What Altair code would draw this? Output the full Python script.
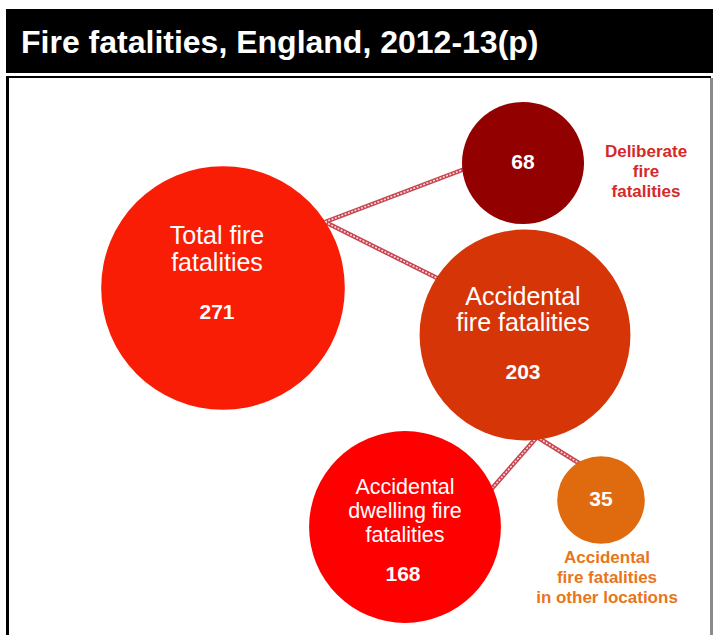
import altair as alt
import pandas as pd
import numpy as np

W, H = 713, 635

# ---------------- data ----------------
title_text = "Fire fatalities, England, 2012-13(p)"
categories = [
    "Total fire fatalities",
    "Deliberate fire fatalities",
    "Accidental fire fatalities",
    "Accidental dwelling fire fatalities",
    "Accidental fire fatalities in other locations",
]
values = [271, 68, 203, 168, 35]
parents = [None, 0, 0, 2, 2]
inner_labels = ["Total fire\nfatalities", "", "Accidental\nfire fatalities",
                "Accidental\ndwelling fire\nfatalities", ""]
outer_labels = ["", "Deliberate\nfire\nfatalities", "", "",
                "Accidental\nfire fatalities\nin other locations"]
colors = ["#f91d06", "#930000", "#d63508", "#ff0000", "#e06a0e"]
outer_label_colors = ["#d42a2a", "#e8751c"]

# ---------------- layout (pixel space of the picture) ----------------
node_x = [223, 523, 525, 405, 601]
node_y = [288, 163, 335, 527, 500]
inner_label_x = [217, 0, 523, 405, 0]
inner_label_y = [236, 0, 297, 488, 0]      # first line of each label
inner_label_size = [25, 0, 25, 21.5, 0]
inner_line_height = [27, 0, 26, 24, 0]
value_x = [217, 523, 523, 403, 601]
value_y = [313, 163, 373, 575, 500]
outer_label_x = [0, 646, 0, 0, 607]
outer_label_y = [0, 152, 0, 0, 558]         # first line of each label
# junction point on the parent circle and end point on each child
junction = {0: (325, 222), 2: (537, 437)}
child_end = {1: (470, 167), 2: (445, 282), 3: (488, 493), 4: (590, 470)}

R_PER_SQRT = 7.4  # radius in px per sqrt(value)
# Vega symbol size = (diameter)^2
size_max = (2 * R_PER_SQRT) ** 2 * max(values)

nodes = pd.DataFrame({
    "name": categories, "value": values,
    "x": node_x, "y": node_y,
    "vx": value_x, "vy": value_y,
    "vlabel": [str(v) for v in values],
})

xs = alt.Scale(domain=[0, W])
ys = alt.Scale(domain=[0, H], reverse=True)

edges = []
for i, p in enumerate(parents):
    if p is None:
        continue
    jx, jy = junction[p]
    ex, ey = child_end[i]
    edges.append({"x": jx, "y": jy, "x2": ex, "y2": ey})
edges = pd.DataFrame(edges)

inner = pd.DataFrame({
    "label": inner_labels, "x": inner_label_x, "y": inner_label_y,
    "size": inner_label_size, "lh": inner_line_height,
})
inner = inner[inner["label"] != ""].reset_index(drop=True)

outer = pd.DataFrame({
    "label": outer_labels, "x": outer_label_x, "y": outer_label_y,
})
outer = outer[outer["label"] != ""].reset_index(drop=True)
outer["color"] = outer_label_colors

FONT = "Liberation Sans, Arial, sans-serif"


def pos():
    return dict(
        x=alt.X("x:Q", scale=xs, axis=None),
        y=alt.Y("y:Q", scale=ys, axis=None),
    )


# title bar
title_df = pd.DataFrame({"t": [title_text]})
title_bar = alt.Chart(title_df).mark_rect(color="black").encode(
    x=alt.value(6), x2=alt.value(W), y=alt.value(9), y2=alt.value(73)
)
title_txt = alt.Chart(title_df).mark_text(
    align="left", baseline="middle", font=FONT, fontWeight="bold",
    fontSize=32, color="white"
).encode(x=alt.value(21), y=alt.value(43), text="t:N")

# panel border
left_border = alt.Chart(title_df).mark_rule(color="black", strokeWidth=3).encode(
    x=alt.value(7.5), y=alt.value(76), y2=alt.value(H)
)
top_border = alt.Chart(title_df).mark_rule(color="black", strokeWidth=2).encode(
    x=alt.value(6), x2=alt.value(711), y=alt.value(77)
)
right_border = alt.Chart(title_df).mark_rule(color="#8a8a8a", strokeWidth=3).encode(
    x=alt.value(711.5), y=alt.value(78), y2=alt.value(H)
)

# connectors
conn_outer = alt.Chart(edges).mark_rule(color="#c8454f", strokeWidth=4.5).encode(
    **pos(), x2="x2:Q", y2="y2:Q"
)
conn_inner = alt.Chart(edges).mark_rule(
    color="#f8dde0", strokeWidth=1.6, strokeDash=[2, 1.5]
).encode(**pos(), x2="x2:Q", y2="y2:Q")

bubbles = alt.Chart(nodes).mark_circle(opacity=1).encode(
    **pos(),
    size=alt.Size("value:Q", scale=alt.Scale(domain=[0, max(values)], range=[0, size_max]), legend=None),
    color=alt.Color("name:N", scale=alt.Scale(domain=categories, range=colors), legend=None),
)

inner_layers = []
for _, row in inner.iterrows():
    inner_layers.append(
        alt.Chart(inner.iloc[[_]]).mark_text(
            font=FONT, color="white", lineBreak="\n", lineHeight=float(row["lh"]),
            fontSize=float(row["size"]), baseline="middle", align="center"
        ).encode(**pos(), text="label:N")
    )

value_txt = alt.Chart(nodes).mark_text(
    font=FONT, color="white", fontWeight="bold", fontSize=21, baseline="middle", align="center"
).encode(
    x=alt.X("vx:Q", scale=xs, axis=None), y=alt.Y("vy:Q", scale=ys, axis=None), text="vlabel:N"
)

outer_txt = alt.Chart(outer).mark_text(
    font=FONT, fontWeight="bold", fontSize=17, lineBreak="\n", lineHeight=20,
    baseline="middle", align="center"
).encode(**pos(), text="label:N", color=alt.Color("color:N", scale=None))

chart = alt.layer(
    title_bar, title_txt, left_border, top_border, right_border,
    conn_outer, conn_inner, bubbles, *inner_layers, value_txt, outer_txt
).properties(
    width=W, height=H, padding=0, autosize=alt.AutoSizeParams(type="none")
).configure_view(stroke=None)

chart.save("out.html", embed_options={"renderer": "svg", "actions": False})
